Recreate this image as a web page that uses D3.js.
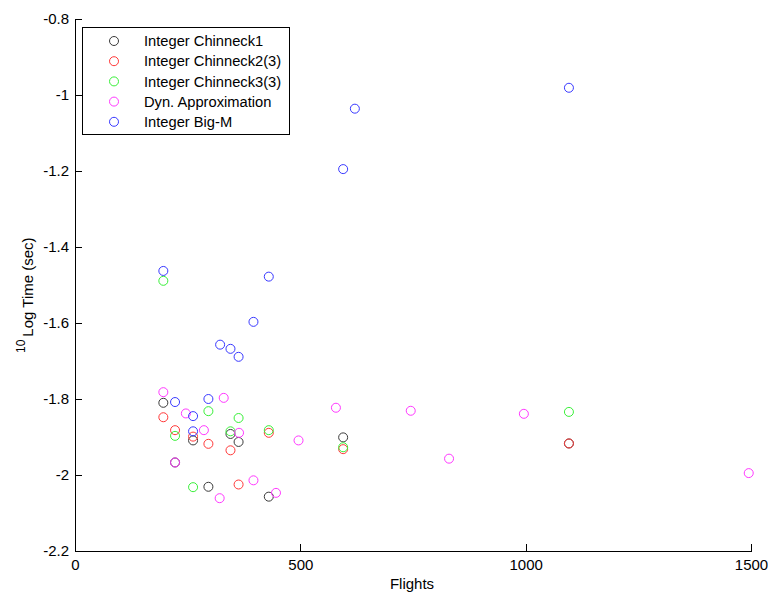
<!DOCTYPE html>
<html>
<head>
<meta charset="utf-8">
<script src="https://cdn.jsdelivr.net/npm/d3@7"></script>
<style>
  body { margin: 0; background: #fff; }
  svg { display: block; font-family: "Liberation Sans", Arial, sans-serif; }
</style>
</head>
<body>
<svg id="chart" width="768" height="596"></svg>
<script>
// ---- data ----
const seriesNames = ["Integer Chinneck1", "Integer Chinneck2(3)", "Integer Chinneck3(3)", "Dyn. Approximation", "Integer Big-M"];
const seriesColors = ["#3a3a3a", "#ff3838", "#38f038", "#ff38ff", "#3838ff"];

const chinneck1X = [196, 222, 262, 296, 345, 363, 430, 595, 1096];
const chinneck1Y = [-1.810, -1.967, -1.909, -2.031, -1.892, -1.913, -2.057, -1.901, -1.917];

const chinneck2X = [196, 222, 262, 296, 345, 363, 430, 595, 1096];
const chinneck2Y = [-1.848, -1.882, -1.899, -1.918, -1.935, -2.025, -1.889, -1.932, -1.917];

const chinneck3X = [196, 222, 262, 296, 345, 363, 430, 595, 1096];
const chinneck3Y = [-1.489, -1.897, -2.032, -1.832, -1.885, -1.850, -1.882, -1.927, -1.834];

const dynX = [196, 222, 246, 286, 321, 330, 364, 396, 446, 496, 579, 745, 830, 996, 1495];
const dynY = [-1.782, -1.967, -1.838, -1.882, -2.061, -1.797, -1.889, -2.014, -2.047, -1.909, -1.823, -1.831, -1.957, -1.839, -1.995];

const bigMX = [196, 222, 262, 262, 296, 322, 345, 363, 396, 430, 595, 621, 1096];
const bigMY = [-1.463, -1.808, -1.845, -1.885, -1.800, -1.657, -1.668, -1.689, -1.597, -1.478, -1.195, -1.036, -0.981];

const xTicks = [0, 500, 1000, 1500];
const xTickLabels = ["0", "500", "1000", "1500"];
const yTicks = [-0.8, -1, -1.2, -1.4, -1.6, -1.8, -2, -2.2];
const yTickLabels = ["-0.8", "-1", "-1.2", "-1.4", "-1.6", "-1.8", "-2", "-2.2"];

const xLabel = "Flights";
const yLabelSup = "10";
const yLabel = "Log Time (sec)";

// ---- layout ----
const svg = d3.select("#chart");
const mLeft = 75, mRight = 751, mTop = 19, mBottom = 551;
const fs = 15;
const x = d3.scaleLinear().domain([0, 1500]).range([mLeft, mRight]);
const y = d3.scaleLinear().domain([-2.2, -0.8]).range([mBottom, mTop]);

const seriesData = [
  [chinneck1X, chinneck1Y],
  [chinneck2X, chinneck2Y],
  [chinneck3X, chinneck3Y],
  [dynX, dynY],
  [bigMX, bigMY]
];

// axes
const xAxis = d3.axisBottom(x).tickValues(xTicks)
  .tickFormat((d, i) => xTickLabels[i]).tickSizeInner(-7).tickSizeOuter(0).tickPadding(8);
const yAxis = d3.axisLeft(y).tickValues(yTicks)
  .tickFormat((d, i) => yTickLabels[i]).tickSizeInner(-7).tickSizeOuter(0).tickPadding(6);

const gx = svg.append("g").attr("transform", `translate(0,${mBottom})`).call(xAxis);
const gy = svg.append("g").attr("transform", `translate(${mLeft},0)`).call(yAxis);
[gx, gy].forEach(g => {
  g.selectAll("path, line").attr("stroke", "#000").attr("stroke-width", 1).attr("shape-rendering", "crispEdges");
  g.selectAll("text").attr("fill", "#000").attr("font-size", fs).attr("font-family", "Liberation Sans, Arial, sans-serif");
});

// points
seriesData.forEach((s, si) => {
  const pts = s[0].map((xv, i) => [xv, s[1][i]]);
  svg.append("g").selectAll("circle").data(pts).enter().append("circle")
    .attr("cx", d => x(d[0])).attr("cy", d => y(d[1])).attr("r", 4.5)
    .attr("fill", "none").attr("stroke", seriesColors[si]).attr("stroke-width", 1);
});

// axis labels
svg.append("text").attr("x", 412).attr("y", 589)
  .attr("text-anchor", "middle").attr("font-size", fs).text(xLabel);

const yl = svg.append("text").attr("transform", "translate(33,353) rotate(-90)")
  .attr("text-anchor", "start").attr("font-size", fs);
yl.append("tspan").attr("font-size", 12).attr("dy", -8).text(yLabelSup);
yl.append("tspan").attr("dy", 8).attr("dx", 3).text(yLabel);

// legend
const lg = svg.append("g");
lg.append("rect").attr("x", 82).attr("y", 27).attr("width", 207).attr("height", 107)
  .attr("fill", "#fff").attr("stroke", "#000").attr("stroke-width", 1).attr("shape-rendering", "crispEdges");
seriesNames.forEach((name, i) => {
  const cy = 41 + i * 20.2;
  lg.append("circle").attr("cx", 114).attr("cy", cy).attr("r", 4.5)
    .attr("fill", "none").attr("stroke", seriesColors[i]).attr("stroke-width", 1);
  lg.append("text").attr("x", 144).attr("y", cy).attr("dy", "0.35em")
    .attr("font-size", 14.7).text(name);
});
</script>
</body>
</html>
